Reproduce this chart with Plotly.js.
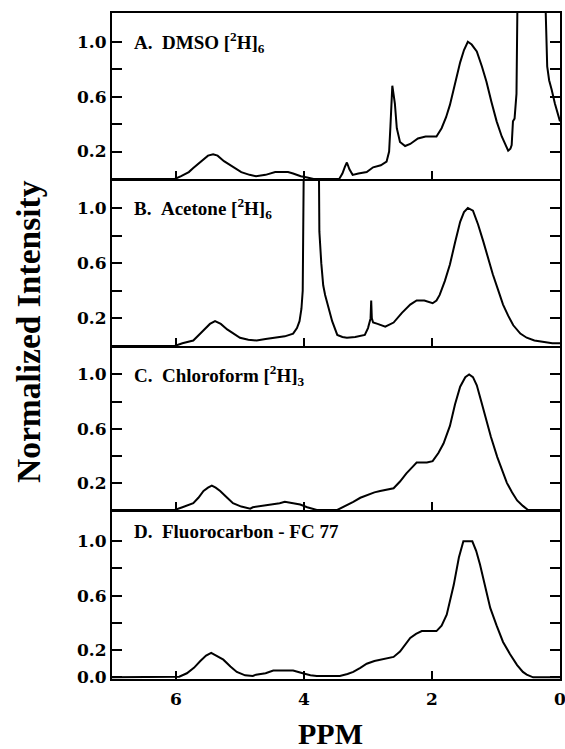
<!DOCTYPE html>
<html>
<head>
<meta charset="utf-8">
<script src="https://cdn.plot.ly/plotly-3.0.1.min.js"></script>
<style>html,body{margin:0;padding:0;background:#fff;}#chart{width:565px;height:749px;}</style>
</head>
<body>
<div id="chart"></div>
<script>
// Panel labels
const panelLabels = [
  "A.\u00a0\u00a0DMSO [<sup>2</sup>H]<sub>6</sub>",
  "B.\u00a0\u00a0Acetone [<sup>2</sup>H]<sub>6</sub>",
  "C.\u00a0\u00a0Chloroform [<sup>2</sup>H]<sub>3</sub>",
  "D.\u00a0\u00a0Fluorocarbon - FC 77"
];
const xTickVals = [6, 4, 2, 0];
const xTickText = ["6", "4", "2", "0"];
const yTickVals = [0.2, 0.6, 1.0];
const yTickText = ["0.2", "0.6", "1.0"];
const yTickValsD = [0.0, 0.2, 0.6, 1.0];
const yTickTextD = ["0.0", "0.2", "0.6", "1.0"];
const yMinorVals = [0.4, 0.8];

// A. DMSO
const ppmA = [7.0, 6.02, 5.92, 5.80, 5.73, 5.60, 5.50, 5.42, 5.35, 5.25, 5.11, 4.98, 4.85, 4.75, 4.60, 4.45, 4.37, 4.25, 4.17, 4.05, 3.95, 3.85, 3.45, 3.40, 3.36, 3.33, 3.29, 3.24, 3.15, 3.02, 2.92, 2.80, 2.71, 2.67, 2.65, 2.62, 2.58, 2.55, 2.50, 2.42, 2.34, 2.22, 2.10, 1.98, 1.93, 1.85, 1.78, 1.72, 1.64, 1.56, 1.50, 1.44, 1.38, 1.30, 1.22, 1.15, 1.07, 0.99, 0.91, 0.85, 0.81, 0.775, 0.755, 0.735, 0.71, 0.68, 0.66, 0.62, 0.24, 0.20, 0.17, 0.13, 0.08, 0.0];
const intA = [0, 0.0, 0.02, 0.05, 0.08, 0.13, 0.17, 0.18, 0.17, 0.13, 0.09, 0.05, 0.03, 0.02, 0.03, 0.05, 0.05, 0.05, 0.04, 0.02, 0.01, 0.0, 0.0, 0.04, 0.09, 0.12, 0.07, 0.03, 0.04, 0.05, 0.085, 0.10, 0.126, 0.2, 0.38, 0.68, 0.55, 0.37, 0.27, 0.24, 0.255, 0.295, 0.31, 0.31, 0.31, 0.37, 0.45, 0.54, 0.70, 0.85, 0.94, 1.0, 0.98, 0.93, 0.82, 0.71, 0.56, 0.42, 0.31, 0.24, 0.206, 0.22, 0.247, 0.42, 0.44, 0.62, 1.5, 1.5, 1.5, 0.82, 0.72, 0.65, 0.55, 0.42];

// B. Acetone
const ppmB = [7.0, 6.02, 5.90, 5.73, 5.60, 5.47, 5.39, 5.30, 5.20, 5.10, 5.0, 4.87, 4.74, 4.60, 4.43, 4.30, 4.17, 4.11, 4.07, 4.04, 4.02, 4.0, 3.77, 3.76, 3.73, 3.70, 3.67, 3.62, 3.56, 3.48, 3.40, 3.33, 3.20, 3.05, 3.0, 2.96, 2.95, 2.94, 2.92, 2.85, 2.73, 2.60, 2.47, 2.34, 2.24, 2.12, 2.03, 1.99, 1.93, 1.88, 1.80, 1.72, 1.64, 1.56, 1.50, 1.44, 1.36, 1.28, 1.20, 1.12, 1.05, 0.97, 0.89, 0.81, 0.73, 0.62, 0.52, 0.40, 0.27, 0.12, 0.0];
const intB = [0, 0, 0.02, 0.04, 0.10, 0.16, 0.18, 0.16, 0.12, 0.09, 0.06, 0.045, 0.04, 0.05, 0.06, 0.07, 0.09, 0.13, 0.18, 0.27, 0.4, 1.5, 1.5, 0.83, 0.6, 0.44, 0.37, 0.28, 0.18, 0.08, 0.065, 0.06, 0.065, 0.08, 0.13, 0.2, 0.33, 0.2, 0.17, 0.16, 0.14, 0.17, 0.24, 0.30, 0.33, 0.33, 0.32, 0.31, 0.33, 0.37, 0.47, 0.59, 0.75, 0.90, 0.97, 1.0, 0.98, 0.88, 0.76, 0.63, 0.52, 0.41, 0.30, 0.22, 0.15, 0.09, 0.06, 0.04, 0.03, 0.02, 0.02];

// C. Chloroform
const ppmC = [7.0, 6.02, 5.90, 5.73, 5.65, 5.57, 5.50, 5.44, 5.38, 5.31, 5.20, 5.11, 4.98, 4.84, 4.80, 4.65, 4.48, 4.38, 4.30, 4.18, 4.06, 3.95, 3.89, 3.80, 3.48, 3.35, 3.23, 3.12, 3.02, 2.90, 2.81, 2.70, 2.60, 2.50, 2.40, 2.30, 2.24, 2.15, 2.08, 1.99, 1.90, 1.82, 1.72, 1.64, 1.56, 1.48, 1.42, 1.36, 1.30, 1.23, 1.17, 1.08, 0.98, 0.90, 0.83, 0.75, 0.67, 0.58, 0.50, 0.0];
const intC = [0, 0, 0.02, 0.05, 0.09, 0.14, 0.165, 0.18, 0.165, 0.14, 0.09, 0.05, 0.025, 0.01, 0.02, 0.03, 0.04, 0.05, 0.06, 0.05, 0.04, 0.02, 0.01, 0.0, 0.0, 0.03, 0.06, 0.09, 0.11, 0.13, 0.14, 0.15, 0.16, 0.21, 0.27, 0.32, 0.35, 0.35, 0.35, 0.36, 0.42, 0.49, 0.62, 0.78, 0.91, 0.98, 1.0, 0.98, 0.92, 0.80, 0.69, 0.54, 0.39, 0.29, 0.20, 0.13, 0.07, 0.03, 0.0, 0.0];

// D. Fluorocarbon
const ppmD = [7.0, 6.1, 5.95, 5.83, 5.72, 5.62, 5.53, 5.45, 5.37, 5.26, 5.15, 5.05, 4.92, 4.80, 4.75, 4.60, 4.48, 4.30, 4.17, 4.02, 3.90, 3.80, 3.44, 3.32, 3.23, 3.12, 3.02, 2.90, 2.81, 2.70, 2.60, 2.50, 2.42, 2.34, 2.25, 2.16, 1.93, 1.85, 1.77, 1.66, 1.58, 1.51, 1.37, 1.31, 1.25, 1.17, 1.09, 0.99, 0.89, 0.78, 0.67, 0.58, 0.52, 0.42, 0.0];
const intD = [0, 0, 0.005, 0.03, 0.07, 0.12, 0.16, 0.18, 0.16, 0.13, 0.08, 0.04, 0.015, 0.01, 0.02, 0.03, 0.05, 0.05, 0.05, 0.03, 0.015, 0.01, 0.01, 0.025, 0.04, 0.07, 0.10, 0.12, 0.13, 0.14, 0.15, 0.19, 0.24, 0.29, 0.32, 0.34, 0.34, 0.38, 0.46, 0.68, 0.88, 1.0, 1.0, 0.93, 0.83, 0.68, 0.51, 0.38, 0.26, 0.17, 0.09, 0.04, 0.02, 0.0, 0.0];

const series = [[ppmA, intA], [ppmB, intB], [ppmC, intC], [ppmD, intD]];
const axisSuffix = ["", "2", "3", "4"];
const lineStyle = {color: "#000", width: 2};

const traces = series.map((s, i) => ({
  type: "scatter", mode: "lines",
  x: s[0], y: s[1],
  xaxis: "x" + axisSuffix[i], yaxis: "y" + axisSuffix[i],
  line: lineStyle, hoverinfo: "skip", showlegend: false
}));

const tickFont = {family: "DejaVu Serif", size: 17, color: "#000", weight: "bold"};
const domains = [[0.7508, 1.0], [0.5, 0.7508], [0.2538, 0.5], [0.0, 0.2538]];

const layout = {
  width: 565, height: 749,
  margin: {l: 112, r: 5, t: 13, b: 70},
  paper_bgcolor: "#fff", plot_bgcolor: "#fff",
  showlegend: false,
  annotations: []
};

for (let i = 0; i < 4; i++) {
  const s = axisSuffix[i];
  const isBottom = i === 3;
  layout["xaxis" + s] = {
    domain: [0, 1], anchor: "y" + s, range: [7, 0],
    tickmode: "array", tickvals: xTickVals, ticktext: xTickText,
    ticks: "inside", ticklen: 8, tickwidth: 2, tickcolor: "#000",
    showticklabels: isBottom, tickfont: tickFont,
    ticklabeloverflow: "allow", ticklabelstandoff: 4,
    showline: true, linewidth: 2, linecolor: "#000", mirror: i === 0,
    showgrid: false, zeroline: false, fixedrange: true
  };
  layout["yaxis" + s] = {
    domain: domains[i], anchor: "x" + s,
    range: isBottom ? [-0.012, 1.23] : [0, 1.21],
    tickmode: "array",
    tickvals: isBottom ? yTickValsD : yTickVals,
    ticktext: isBottom ? yTickTextD : yTickText,
    ticks: "inside", ticklen: 10, tickwidth: 2, tickcolor: "#000",
    minor: {tickmode: "array", tickvals: yMinorVals, ticks: "inside", ticklen: 10, tickwidth: 2, tickcolor: "#000", showgrid: false},
    tickfont: tickFont,
    showline: true, linewidth: 2, linecolor: "#000", mirror: "ticks",
    showgrid: false, zeroline: false, fixedrange: true
  };
}

const labelY = [0.955, 0.707, 0.456, 0.221];
for (let i = 0; i < 4; i++) {
  layout.annotations.push({
    text: panelLabels[i], xref: "paper", yref: "paper",
    x: 0.045, y: labelY[i], xanchor: "left", yanchor: "middle",
    showarrow: false,
    font: {family: "Liberation Serif", size: 19, color: "#000", weight: "bold"}
  });
}
layout.annotations.push({
  text: "Normalized Intensity", xref: "paper", yref: "paper",
  x: -0.1875, y: 0.521, xanchor: "center", yanchor: "middle",
  textangle: -90, showarrow: false,
  font: {family: "Liberation Serif", size: 33.5, color: "#000", weight: "bold"}
});
layout.annotations.push({
  text: "PPM", xref: "paper", yref: "paper",
  x: 0.487, y: -0.082, xanchor: "center", yanchor: "middle",
  showarrow: false,
  font: {family: "Liberation Serif", size: 30, color: "#000", weight: "bold"}
});

Plotly.newPlot("chart", traces, layout, {staticPlot: true, displayModeBar: false});
</script>
</body>
</html>
